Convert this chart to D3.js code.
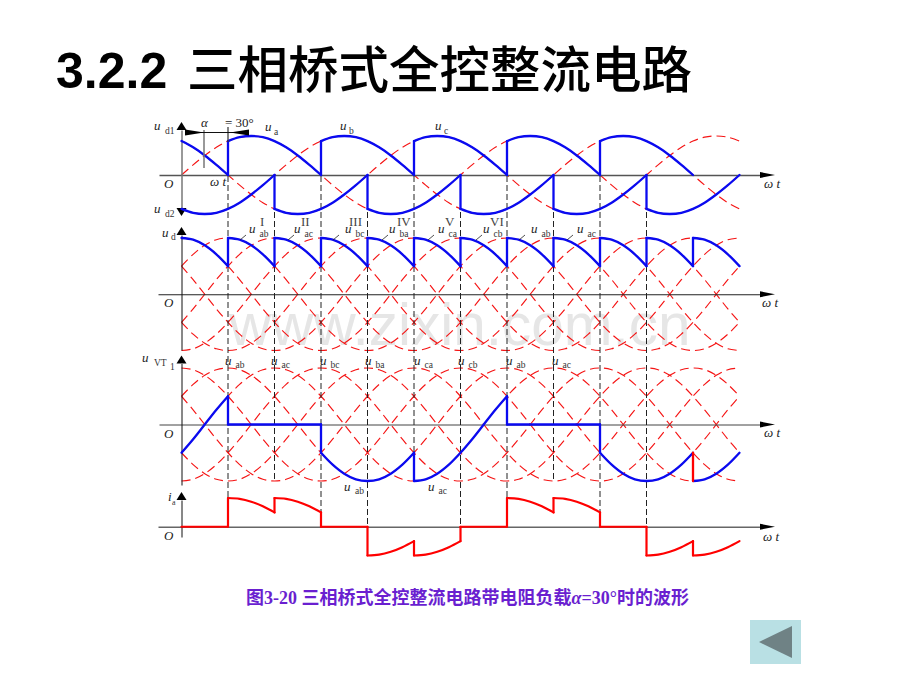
<!DOCTYPE html>
<html>
<head>
<meta charset="utf-8">
<script src="https://d3js.org/d3.v7.min.js"></script>
<style>
  body { margin: 0; background: #fff; }
  text { font-family: "Liberation Serif", serif; fill: #222; }
</style>
</head>
<body>
<svg id="chart" width="920" height="690"></svg>
<script>
// one cycle of each curve, read every 15 degrees (0..345), the picture shows two cycles
const stepDeg = 15;
const ua = [0, .26, .5, .71, .87, .97, 1, .97, .87, .71, .5, .26, 0, -.26, -.5, -.71, -.87, -.97, -1, -.97, -.87, -.71, -.5, -.26];
const ub = [-.87, -.97, -1, -.97, -.87, -.71, -.5, -.26, 0, .26, .5, .71, .87, .97, 1, .97, .87, .71, .5, .26, 0, -.26, -.5, -.71];
const uc = [.87, .71, .5, .26, 0, -.26, -.5, -.71, -.87, -.97, -1, -.97, -.87, -.71, -.5, -.26, 0, .26, .5, .71, .87, .97, 1, .97];
const uab = [.5, .71, .87, .97, 1, .97, .87, .71, .5, .26, 0, -.26, -.5, -.71, -.87, -.97, -1, -.97, -.87, -.71, -.5, -.26, 0, .26];
const uac = [-.5, -.26, 0, .26, .5, .71, .87, .97, 1, .97, .87, .71, .5, .26, 0, -.26, -.5, -.71, -.87, -.97, -1, -.97, -.87, -.71];
const ubc = [-1, -.97, -.87, -.71, -.5, -.26, 0, .26, .5, .71, .87, .97, 1, .97, .87, .71, .5, .26, 0, -.26, -.5, -.71, -.87, -.97];
const uba = [-.5, -.71, -.87, -.97, -1, -.97, -.87, -.71, -.5, -.26, 0, .26, .5, .71, .87, .97, 1, .97, .87, .71, .5, .26, 0, -.26];
const uca = [.5, .26, 0, -.26, -.5, -.71, -.87, -.97, -1, -.97, -.87, -.71, -.5, -.26, 0, .26, .5, .71, .87, .97, 1, .97, .87, .71];
const ucb = [1, .97, .87, .71, .5, .26, 0, -.26, -.5, -.71, -.87, -.97, -1, -.97, -.87, -.71, -.5, -.26, 0, .26, .5, .71, .87, .97];
const off = [0, 0, 0, 0, 0, 0, 0, 0, 0, 0, 0, 0, 0, 0, 0, 0, 0, 0, 0, 0, 0, 0, 0, 0];

// which curve conducts between which angles
const ud1Edges = [0, 60, 180, 300, 420, 540, 660];
const ud1Curves = [uc, ua, ub, uc, ua, ub];
const ud2Edges = [0, 120, 240, 360, 480, 600, 720];
const ud2Curves = [ub, uc, ua, ub, uc, ua];
const udEdges = [0, 60, 120, 180, 240, 300, 360, 420, 480, 540, 600, 660, 720];
const udCurves = [ucb, uab, uac, ubc, uba, uca, ucb, uab, uac, ubc, uba, uca];
const vtEdges = [0, 60, 180, 300, 420, 540, 660, 720];
const vtCurves = [uac, off, uab, uac, off, uab, uac];
const iaEdges = [0, 60, 120, 180, 240, 300, 360, 420, 480, 540, 600, 660, 720];
const iaCurves = [off, uab, uac, off, uab, uac, off, uab, uac, off, uab, uac];

const phaseCurves = [ua, ub, uc];
const lineCurves = [uab, uac, ubc, uba, uca, ucb];

// firing instants and where each dashed guide stops
const guideDegs = [60, 120, 180, 240, 300, 360, 420, 480, 540, 600];
const guideEnds = ["iaTop", "vtBottom", "iaAxis", "iaAxis", "vtBottom", "iaAxis", "iaTop", "vtBottom", "iaAxis", "iaAxis"];

const numerals = ["I", "II", "III", "IV", "V", "VI"];
const udNames = ["ab", "ac", "bc", "ba", "ca", "cb", "ab", "ac"];
const vtNames = ["ab", "ac", "bc", "ba", "ca", "cb", "ab", "ac"];

const svg = d3.select("#chart");

const x = d3.scaleLinear().domain([0, 720]).range([181.5, 739.5]);
const y1 = d3.scaleLinear().domain([-1, 1]).range([214, 136]);
const y2 = d3.scaleLinear().domain([-1, 1]).range([350.5, 238]);
const y3 = d3.scaleLinear().domain([-1, 1]).range([481, 368]);
const y4 = d3.scaleLinear().domain([-1, 1]).range([555.5, 498]);

const RED = "#f51414", BLUE = "#0a0af0", ACCENT = "#ff0000";

function points(curve, from, to) {
  return d3.range(from, to + 1, stepDeg).map(d => [d, curve[(d / stepDeg) % 24]]);
}

const smooth = yScale => d3.line().x(p => x(p[0])).y(p => yScale(p[1])).curve(d3.curveCatmullRom);

function drawDashed(curves, yScale) {
  svg.append("g").selectAll("path").data(curves).join("path")
    .attr("d", c => smooth(yScale)(points(c, 0, 720)))
    .attr("fill", "none").attr("stroke", RED).attr("stroke-width", 1.15).attr("stroke-dasharray", "9 5");
}

// conducting pieces plus the vertical jumps between them
function drawWave(edges, curves, yScale, color, width, jumpColor) {
  const g = svg.append("g").attr("fill", "none").attr("stroke", color).attr("stroke-width", width).attr("stroke-linecap", "round");
  curves.forEach((c, i) => {
    g.append("path").attr("d", smooth(yScale)(points(c, edges[i], edges[i + 1])));
    if (i > 0) {
      const d = edges[i];
      g.append("line")
        .attr("x1", x(d)).attr("x2", x(d))
        .attr("y1", yScale(curves[i - 1][(d / stepDeg) % 24]))
        .attr("y2", yScale(c[(d / stepDeg) % 24]))
        .attr("stroke", jumpColor && i === curves.length - 1 ? jumpColor : color);
    }
  });
}

function drawAxes(yScale, opts) {
  const axisY = yScale(0);
  const hScale = d3.scaleLinear().domain([x.invert(opts.left), x.invert(764)]).range([opts.left, 764]);
  svg.append("g").attr("transform", `translate(0,${axisY})`)
    .call(d3.axisBottom(hScale).tickValues([]).tickSizeOuter(0))
    .call(g => g.select(".domain").attr("stroke", opts.hColor).attr("stroke-width", opts.hWidth));
  svg.append("path").attr("d", `M760,${axisY - 3}L775,${axisY}L760,${axisY + 3}Z`).attr("fill", "#000");

  const vScale = d3.scaleLinear().domain([yScale.invert(opts.bottom), yScale.invert(opts.top)]).range([opts.bottom, opts.top]);
  svg.append("g").attr("transform", `translate(${x(0)},0)`)
    .call(d3.axisLeft(vScale).tickValues([]).tickSizeOuter(0))
    .call(g => g.select(".domain").attr("stroke", opts.vColor).attr("stroke-width", opts.vWidth));
  const up = opts.top;
  svg.append("path").attr("d", `M${x(0)},${up - 8}L${x(0) + 5},${up}L${x(0) - 5},${up}Z`).attr("fill", "#000");
  if (opts.downArrow) {
    const b = opts.bottom;
    svg.append("path").attr("d", `M${x(0)},${b + 8}L${x(0) + 5},${b}L${x(0) - 5},${b}Z`).attr("fill", "#000");
  }
}

function label(px, py, main, sub, subDx, subDy) {
  const t = svg.append("g");
  t.append("text").attr("x", px).attr("y", py).attr("font-size", 13).attr("font-style", "italic").text(main);
  if (sub) t.append("text").attr("x", px + (subDx === undefined ? 10 : subDx)).attr("y", py + (subDy === undefined ? 4 : subDy)).attr("font-size", 9.5).style("fill", "#333").text(sub);
}

function omegaT(px, py) {
  svg.append("text").attr("x", px).attr("y", py).attr("font-size", 13).attr("font-style", "italic").text("ω t");
}

function originO(py) {
  svg.append("text").attr("x", 164).attr("y", py).attr("font-size", 13).attr("font-style", "italic").text("O");
}

// heading
svg.append("text").attr("x", 56).attr("y", 88).attr("font-size", 50).attr("font-weight", "bold")
  .style("font-family", '"Liberation Sans", sans-serif').style("fill", "#000").text("3.2.2");
svg.append("text").attr("x", 187).attr("y", 88).attr("font-size", 50.5)
  .style("font-family", '"Noto Sans CJK SC", sans-serif').attr("font-weight", 500).style("fill", "#000").text("三相桥式全控整流电路");

// faint site mark behind the plots
svg.append("text").attr("x", 229).attr("y", 345).attr("font-size", 58.5)
  .style("font-family", '"Liberation Sans", sans-serif').style("fill", "#e6e6e6").text("www.zixin.com.cn");

drawDashed(phaseCurves, y1);
drawDashed(lineCurves, y2);
drawDashed(lineCurves, y3);

drawAxes(y1, { left: 159, top: 130, bottom: 208, hColor: "#555", hWidth: 1.5, vColor: "#777", vWidth: 1.5, downArrow: true });
drawAxes(y2, { left: 158, top: 235, bottom: 350, hColor: "#222", hWidth: 1, vColor: "#111", vWidth: 1 });
drawAxes(y3, { left: 159, top: 363.5, bottom: 485, hColor: "#444", hWidth: 1, vColor: "#111", vWidth: 1 });
drawAxes(y4, { left: 158, top: 500, bottom: 537, hColor: "#666", hWidth: 1.5, vColor: "#111", vWidth: 1 });

// dashed firing guides
const guideBottom = { iaTop: y4(1), iaAxis: y4(0), vtBottom: y3(-1) };
svg.append("g").selectAll("line").data(guideDegs).join("line")
  .attr("x1", d => x(d)).attr("x2", d => x(d))
  .attr("y1", 176)
  .attr("y2", (d, i) => guideBottom[guideEnds[i]])
  .attr("stroke", "#222").attr("stroke-width", 1).attr("stroke-dasharray", "6 3");

drawWave(ud1Edges, ud1Curves, y1, BLUE, 2.3);
drawWave(ud2Edges, ud2Curves, y1, BLUE, 2.3);
drawWave(udEdges, udCurves, y2, BLUE, 2.3);
drawWave(vtEdges, vtCurves, y3, BLUE, 2.3, ACCENT);
drawWave(iaEdges, iaCurves, y4, ACCENT, 2.2);

// alpha marker
const alphaG = svg.append("g");
alphaG.append("line").attr("x1", 204).attr("x2", 204).attr("y1", 130).attr("y2", 168).attr("stroke", "#777").attr("stroke-width", 1.5);
alphaG.append("line").attr("x1", 228).attr("x2", 228).attr("y1", 127).attr("y2", 142).attr("stroke", "#333").attr("stroke-width", 1.2);
alphaG.append("line").attr("x1", 186).attr("x2", 248).attr("y1", 132.5).attr("y2", 132.5).attr("stroke", "#111").attr("stroke-width", 1);
alphaG.append("path").attr("d", "M185,129.5L204,132.5L185,135.5Z").attr("fill", "#000");
alphaG.append("path").attr("d", "M249,129.5L230,132.5L249,135.5Z").attr("fill", "#000");
svg.append("text").attr("x", 201).attr("y", 127).attr("font-size", 13).attr("font-style", "italic").text("α");
svg.append("text").attr("x", 225).attr("y", 127).attr("font-size", 13).text("= 30°");

// panel 1 labels
label(154, 130, "u", "d1", 11, 4);
label(154, 213, "u", "d2", 11, 4);
label(265, 131, "u", "a", 9, 4);
label(340, 130, "u", "b", 9, 4);
label(435, 130, "u", "c", 9, 4);
originO(188);
omegaT(210, 186);
omegaT(764, 188);

// panel 2 labels
const numeralX = [260, 301, 349, 397, 445, 490];
numerals.forEach((n, i) => {
  svg.append("text").attr("x", numeralX[i]).attr("y", 226).attr("font-size", 13).style("fill", "#444").text(n);
});
const udLabelX = [249, 294, 345, 389, 438, 483, 531, 577];
const leaderX = [240, 288, 333, 382, 428, 476, 519, 567];
udNames.forEach((n, i) => {
  label(udLabelX[i], 233, "u", n, 10.5, 4);
  svg.append("line").attr("x1", leaderX[i]).attr("x2", leaderX[i] + 6).attr("y1", 240).attr("y2", 235).attr("stroke", "#222").attr("stroke-width", 0.8);
});
label(162, 237, "u", "d", 9, 3);
originO(307);
omegaT(762, 307);

// panel 3 labels
label(142, 362, "u", "VT", 12, 4);
svg.append("text").attr("x", 170).attr("y", 370).attr("font-size", 9.5).style("fill", "#333").text("1");
const vtLabelX = [225, 271, 320, 365, 414, 458, 506, 552];
vtNames.forEach((n, i) => label(vtLabelX[i], 365, "u", n, 10.5, 3));
label(344, 490.5, "u", "ab", 11, 3.5);
label(428, 490.5, "u", "ac", 10.5, 3.5);
originO(438);
omegaT(764, 437);

// panel 4 labels
svg.append("text").attr("x", 168).attr("y", 500.5).attr("font-size", 13).attr("font-style", "italic").text("i");
svg.append("text").attr("x", 172).attr("y", 505).attr("font-size", 8).style("fill", "#333").text("a");
originO(540);
omegaT(763, 541);

// caption
const cap = svg.append("text").attr("x", 246).attr("y", 604).attr("font-size", 18).attr("font-weight", "bold")
  .style("font-family", '"Liberation Serif", "Noto Sans CJK SC", serif').style("fill", "#6a1fd0");
cap.append("tspan").text("图3-20 三相桥式全控整流电路带电阻负载");
cap.append("tspan").attr("font-style", "italic").text("α");
cap.append("tspan").text("=30°时的波形");

// back button
svg.append("rect").attr("x", 750).attr("y", 620).attr("width", 51).attr("height", 44).attr("fill", "#b9e0e4");
svg.append("path").attr("d", "M759,642L792,626L792,658Z").attr("fill", "#6f8285");
</script>
</body>
</html>
